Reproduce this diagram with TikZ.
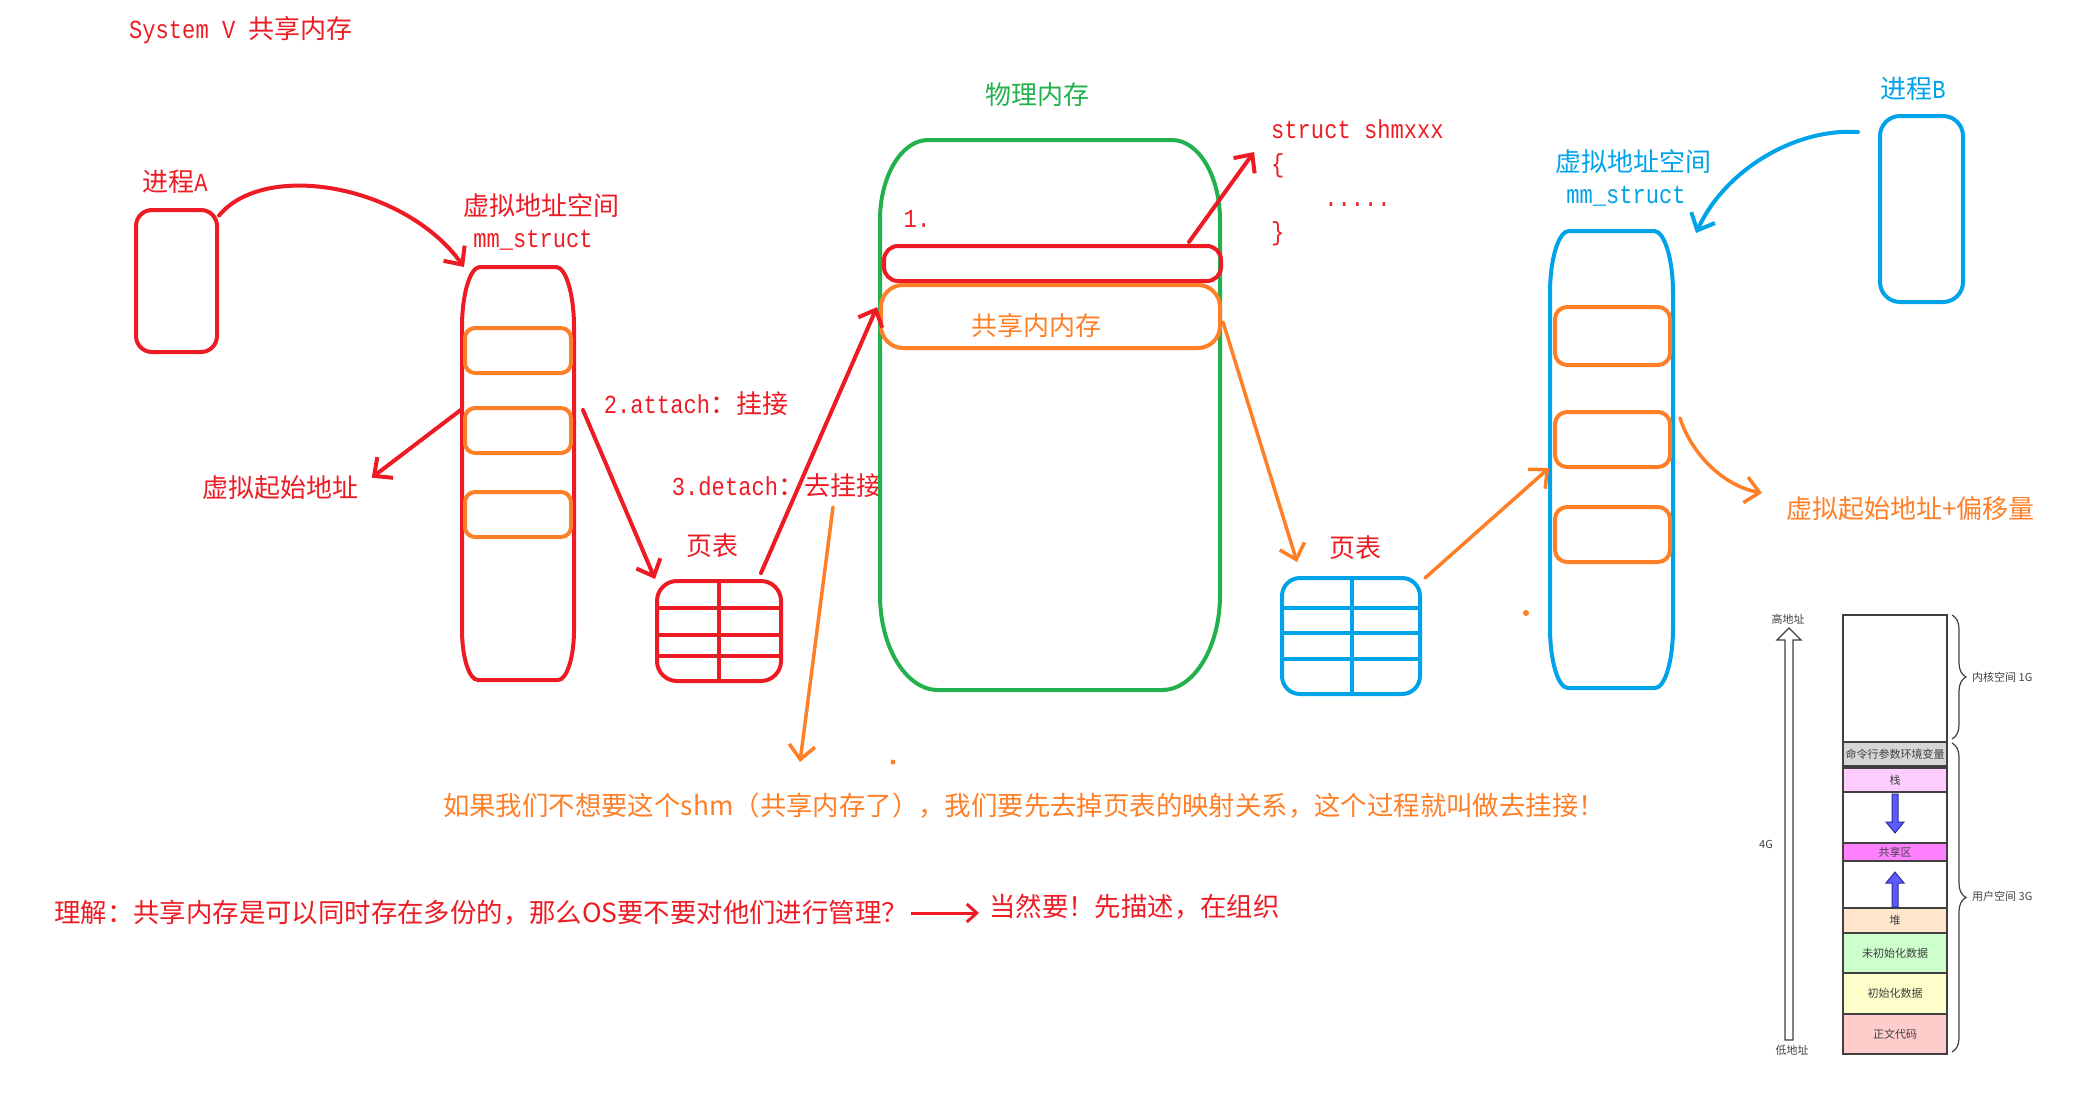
\documentclass[tikz,border=0pt]{standalone}
\usepackage{fontspec}
\setmainfont{Noto Sans CJK SC}
\setmonofont{Liberation Mono}[FakeStretch=0.85]
\usetikzlibrary{arrows.meta, calc, decorations.pathreplacing}
\definecolor{cred}{HTML}{ED1C24}
\definecolor{corange}{HTML}{FF7F27}
\definecolor{cgreen}{HTML}{22B14C}
\definecolor{cblue}{HTML}{00A2E8}
\definecolor{cgrey}{HTML}{404040}
\definecolor{cnavy}{HTML}{2E2E99}
\definecolor{cfill}{HTML}{5B5BFF}
\definecolor{segGrey}{HTML}{D6D6D6}
\definecolor{segStack}{HTML}{FFCCFF}
\definecolor{segShare}{HTML}{FF80FF}
\definecolor{segHeap}{HTML}{FFE5CC}
\definecolor{segBss}{HTML}{CCFFCC}
\definecolor{segData}{HTML}{FFFFCC}
\definecolor{segText}{HTML}{FFCCCC}
\newcommand\mtext[1]{{\fontsize{26}{30}\selectfont\ttfamily #1}}
% barrel outline: style, x1, y1, x2, y2, top rx, top ry, bottom rx, bottom ry
\newcommand\barrel[9]{%
  \draw[#1] ({#2+#6},#3) -- ({#4-#6},#3)
    .. controls ({#4-0.45*#6},#3) and (#4,{#3+0.45*#7}) .. (#4,{#3+#7})
    -- (#4,{#5-#9})
    .. controls (#4,{#5-0.45*#9}) and ({#4-0.45*#8},#5) .. ({#4-#8},#5)
    -- ({#2+#8},#5)
    .. controls ({#2+0.45*#8},#5) and (#2,{#5-0.45*#9}) .. (#2,{#5-#9})
    -- (#2,{#3+#7})
    .. controls (#2,{#3+0.45*#7}) and ({#2+0.45*#6},#3) .. cycle;}

\begin{document}
\begin{tikzpicture}[x=1pt, y=-1pt,
    every node/.style={inner sep=0pt},
    lab/.style={font=\fontsize{26}{30}\selectfont},
    big/.style={font=\fontsize{26.4}{32}\selectfont},
    mlab/.style={font=\fontsize{26}{30}\selectfont\ttfamily},
    tiny/.style={font=\fontsize{11}{13}\selectfont, text=cgrey},
    arr/.style={-{Straight Barb[length=14pt, width=26pt]}, line width=4pt,
                line cap=round, line join=round},
    tarr/.style={arr, line width=3.5pt},
    rbox/.style={draw, rectangle, line width=4pt, rounded corners=#1},
    rbox/.default=12pt,
    wall/.style={line width=4pt},
    seg/.style={draw=cgrey, line width=1.2pt},
    blk/.style={draw=cnavy, fill=cfill, line width=1pt},
]
\useasboundingbox (0,0) rectangle (2083,1093);

\node[lab, text=cred, anchor=west] (title) at (129,30) {\mtext{System V }共享内存};

% process A and its address space
\node[lab, text=cred] (lblA) at (175,182) {进程\mtext{A}};
\node[rbox=16pt, draw=cred, minimum width=81pt, minimum height=142pt] (procA) at (176.5,281) {};
\node[lab, text=cred] (vasA) at (541,206) {虚拟地址空间};
\node[mlab, text=cred] (mmA) at (533,240) {mm\_struct};
\barrel{cred, wall}{462}{267}{574}{680}{18}{60}{16}{50}
\foreach \y in {328,408,492}{
    \draw[corange, wall, rounded corners=10pt] (465,\y) rectangle (571,{\y+45});
}
\coordinate (vaTop) at (464,267);
\coordinate (vaL) at (462,409);
\coordinate (vaR) at (583,410);
\node[lab, text=cred] (startA) at (280,488) {虚拟起始地址};
\node[lab, text=cred] (attach) at (696,404) {\mtext{2.attach}：挂接};
\node[lab, text=cred] (detach) at (777,486) {\mtext{3.detach}：去挂接};

% page table A
\node[lab, text=cred] (ptlA) at (712,546) {页表};
\node[rbox=20pt, draw=cred, minimum width=124pt, minimum height=100pt] (ptA) at (719,631) {};
\draw[cred, wall] (719,581) -- (719,681);
\foreach \y in {608,635,656}{
    \draw[cred, wall] (657,\y) -- (781,\y);
}
\coordinate (ptAtop) at (761,573);

% physical memory
\node[lab, text=cgreen] (phys) at (1037,95) {物理内存};
\barrel{cgreen, wall}{880}{140}{1220}{690}{48}{80}{58}{95}
\node[mlab, text=cred] (one) at (917,219) {1.};
\node[rbox=14pt, draw=cred, minimum width=337pt, minimum height=35pt] (slot) at (1052.5,263.5) {};
\node[rbox=22pt, draw=corange, minimum width=339pt, minimum height=63pt] (shm) at (1050.5,316.5) {};
\node[lab, text=corange] (shmTxt) at (1036,326) {共享内内存};
\coordinate (shmL) at (877,307);
\coordinate (shmR) at (1223,322);
\coordinate (slotR) at (1189,242);

% the kernel struct
\node[text=cred, anchor=north west, align=left, font=\fontsize{26}{34}\selectfont\ttfamily]
    (shmDef) at (1271,119) {struct shmxxx\\\{\\\phantom{stru}.....\\\}};
\coordinate (defTip) at (1254,152);

% process B and its address space
\node[lab, text=cblue] (lblB) at (1913,89) {进程\mtext{B}};
\node[rbox=20pt, draw=cblue, minimum width=83pt, minimum height=186pt] (procB) at (1921.5,209) {};
\coordinate (pbL) at (1858,132);
\node[lab, text=cblue] (vasB) at (1633,162) {虚拟地址空间};
\node[mlab, text=cblue] (mmB) at (1626,196) {mm\_struct};
\barrel{cblue, wall}{1550}{231}{1673}{688}{19}{62}{18}{60}
\foreach \y/\h in {307/58,412/55,507/55}{
    \draw[corange, wall, rounded corners=12pt] (1555,\y) rectangle (1670,{\y+\h});
}
\coordinate (vbTop) at (1696,233);
\coordinate (vbL) at (1549,468);
\coordinate (vbR) at (1680,418);
\node[lab, text=corange, anchor=west] (startB) at (1786,509) {虚拟起始地址+偏移量};
\coordinate (offTip) at (1762,493);

% page table B
\node[lab, text=cred] (ptlB) at (1355,548) {页表};
\node[rbox=18pt, draw=cblue, minimum width=138pt, minimum height=116pt] (ptB) at (1351,636) {};
\draw[cblue, wall] (1352,578) -- (1352,694);
\foreach \y in {608,633,659}{
    \draw[cblue, wall] (1282,\y) -- (1420,\y);
}
\coordinate (ptBtop) at (1297,562);
\coordinate (ptBR) at (1425,578);

% notes
\coordinate (dtS) at (833,507);
\coordinate (dtE) at (800,762);
\fill[corange] (893,762) circle (2.5);
\fill[corange] (1526,613) circle (3);
\node[big, text=corange] (note) at (1024,806)
    {如果我们不想要这个shm（共享内存了），我们要先去掉页表的映射关系，这个过程就叫做去挂接！};
\node[big, text=cred, anchor=west] (ask) at (54,913)
    {理解：共享内存是可以同时存在多份的，那么OS要不要对他们进行管理？};
\node[big, text=cred, anchor=west] (ans) at (989,907) {当然要！先描述，在组织};

% arrows
\draw[arr, cred] (procA.57) .. controls (265,160) and (405,185) .. (vaTop);
\draw[arr, cred, shorten >=17pt] (vaL) -- (startA.east);
\draw[arr, cred] (vaR) -- (ptA.north west);
\draw[arr, cred] (ptAtop) -- (shmL);
\draw[arr, cred] (slotR) -- (defTip);
\draw[tarr, corange] (dtS) -- (dtE);
\draw[tarr, corange] (shmR) -- (ptBtop);
\draw[tarr, corange] (ptBR) -- (vbL);
\draw[arr, cblue] (pbL) .. controls (1795,128) and (1725,170) .. (vbTop);
\draw[tarr, corange] (vbR) .. controls (1690,450) and (1720,485) .. (offTip);
\draw[cred, line width=3pt, -{Straight Barb[length=10pt, width=18pt]},
      shorten <=3pt, shorten >=10pt] (ask.east) -- (ask.east -| ans.west);

% memory layout
\draw[seg, fill=white] (1843,615) rectangle (1947,1054);
\foreach \ya/\yb/\col/\txt in {742/766/segGrey/命令行参数环境变量, 768/792/segStack/栈,
        843/861/segShare/共享区, 908/933/segHeap/堆, 933/973/segBss/未初始化数据,
        973/1014/segData/初始化数据, 1014/1054/segText/正文代码}{
    \draw[seg, fill=\col] (1843,\ya) rectangle (1947,\yb);
    \node[tiny] (seg\ya) at (1895,{(\ya+\yb)/2}) {\txt};
}
\draw[blk] (1892,794) -- (1892,822) -- (1886,822) -- (1895,833) -- (1904,822)
    -- (1898,822) -- (1898,794) -- cycle;
\draw[blk] (1892,907) -- (1892,883) -- (1886,883) -- (1895,872) -- (1904,883)
    -- (1898,883) -- (1898,907) -- cycle;
\draw[seg, fill=white] (1785,1040) -- (1785,640) -- (1777,640) -- (1789,628)
    -- (1801,640) -- (1793,640) -- (1793,1040) -- cycle;
\node[tiny] (hi) at (1788,619) {高地址};
\node[tiny] (four) at (1766,844) {4G};
\node[tiny] (lo) at (1792,1050) {低地址};
\draw[seg, decorate, decoration={brace, amplitude=14pt}] (1952,615) -- (1952,739);
\draw[seg, decorate, decoration={brace, amplitude=14pt}] (1952,743) -- (1952,1052);
\node[tiny, anchor=west] (kern) at (1972,677) {内核空间 1G};
\node[tiny, anchor=west] (user) at (1972,896) {用户空间 3G};
\end{tikzpicture}
\end{document}
